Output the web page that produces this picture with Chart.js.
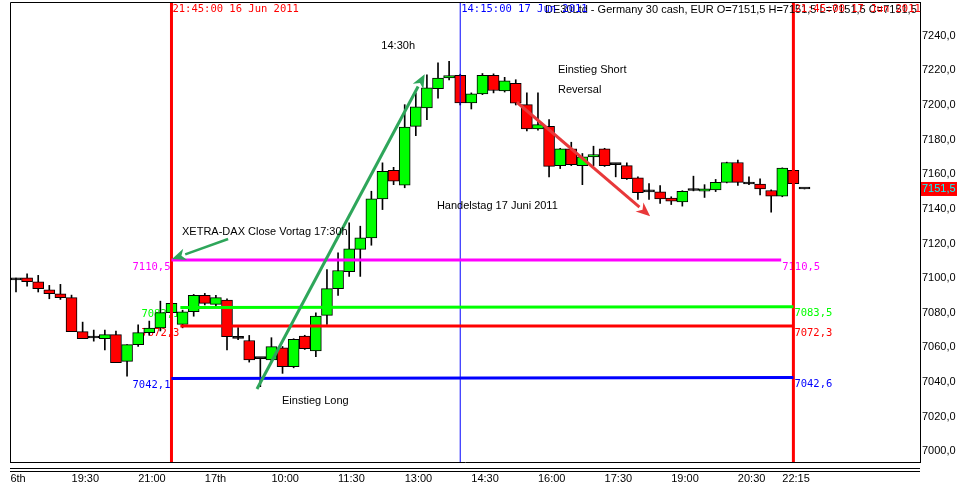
<!DOCTYPE html>
<html>
<head>
<meta charset="utf-8">
<script src="https://cdn.jsdelivr.net/npm/chart.js@4.4.0/dist/chart.umd.min.js"></script>
<style>
  body { margin: 0; background: #fff; }
  canvas { display: block; }
</style>
</head>
<body>
<canvas id="chart" width="961" height="488"></canvas>
<script>
// DE30 15 min candles, index 0 = 18:15 on 16 Jun 2011
const opens = [7099, 7100.2, 7097.9, 7093.3, 7091, 7088.7, 7069.1, 7065.4, 7065.1, 7067.4,
  7051.9, 7061.6, 7068.5, 7071.2, 7080.1, 7073.3, 7080.6, 7090, 7084.8, 7087.3,
  7065.2, 7064, 7053.5, 7052.7, 7059.8, 7048.9, 7066.5, 7057.9, 7078.5, 7093.9,
  7103.7, 7116.6, 7123.3, 7145.8, 7162.3, 7153.7, 7187.7, 7198.3, 7209.5, 7215.6,
  7217.1, 7201.2, 7206.4, 7217.1, 7208.1, 7212.5, 7200.2, 7186.2, 7187.7, 7165,
  7174.7, 7165, 7170, 7174.7, 7165.6, 7165, 7158, 7149.8, 7149.8, 7146.3,
  7144, 7150.6, 7150.2, 7151, 7155.3, 7166.8, 7154.4, 7154.4, 7150.6, 7147.4,
  7162.3, 7151.5];
const highs = [7100, 7102.5, 7101.6, 7095.8, 7096.4, 7090.2, 7074.6, 7070, 7070, 7069.4,
  7061.6, 7073.1, 7075.2, 7086.7, 7087, 7081.5, 7090.6, 7091.2, 7090, 7088,
  7071.4, 7066.9, 7053.8, 7065.6, 7060.5, 7065, 7067, 7080, 7105, 7114.6,
  7132, 7130, 7150.2, 7166.6, 7164, 7200.2, 7207, 7217.5, 7224.3, 7225.2,
  7217.8, 7207, 7218.2, 7218, 7216, 7214.6, 7207, 7207, 7191.6, 7175,
  7178.5, 7172, 7176.2, 7175, 7166, 7166.6, 7158.5, 7154.6, 7153.5, 7147,
  7150.5, 7158.9, 7154, 7157, 7167, 7168.2, 7158.5, 7157.4, 7151, 7163.7,
  7163, 7151.5];
const lows = [7092, 7095.4, 7092, 7088.1, 7087.7, 7069.1, 7065.1, 7063.6, 7058.5, 7051.2,
  7043.4, 7060.6, 7067, 7069.5, 7079, 7071.3, 7078, 7084.5, 7084, 7058.5,
  7064.5, 7051.5, 7037.3, 7051.8, 7045, 7048.2, 7058.8, 7054.6, 7073.3, 7090,
  7101, 7101, 7119, 7139.6, 7154, 7152.2, 7182.3, 7191.6, 7204, 7214.5,
  7200, 7197.7, 7206, 7207, 7207.5, 7200, 7185, 7185.5, 7158.5, 7163.3,
  7165, 7154, 7165, 7164.5, 7158.5, 7157, 7145.4, 7145.4, 7143.1, 7142.5,
  7141.6, 7150.4, 7146.6, 7150, 7155, 7153.5, 7154, 7148, 7138.1, 7147,
  7154, 7151.5];
const closes = [7099, 7097.9, 7093.9, 7091, 7088.7, 7069.1, 7065.1, 7065.4, 7067.4, 7051.2,
  7061.6, 7068.5, 7071.2, 7080.1, 7085.4, 7080.6, 7090, 7085.4, 7088.7, 7066.2,
  7065.2, 7052.7, 7053.5, 7060.4, 7048.9, 7064.6, 7059.3, 7078.1, 7093.9, 7104.4,
  7117, 7123.3, 7145.8, 7161.7, 7156, 7187.3, 7198.9, 7209.9, 7215.6, 7217,
  7201.2, 7206.4, 7217.1, 7208.4, 7213.9, 7201, 7186.2, 7188.7, 7164.6, 7174.7,
  7165.5, 7170, 7171.3, 7165, 7165.6, 7157.4, 7149.4, 7149.8, 7145.8, 7144.4,
  7150.2, 7150.6, 7151.6, 7155.3, 7166.8, 7155.3, 7154.4, 7151.6, 7147.4, 7163.5,
  7154.6, 7151.5];

const xTickPos = [-0.5, 5, 11, 17, 23, 29, 35, 41, 47, 53, 59, 65, 69];
const xTickLabels = ['6th', '19:30', '21:00', '17th', '10:00', '11:30', '13:00', '14:30', '16:00', '17:30', '19:00', '20:30', '22:15'];
const yTicks = [7000, 7020, 7040, 7060, 7080, 7100, 7120, 7140, 7160, 7180, 7200, 7220, 7240];

// horizontal levels (start / end price, start / end bar)
const levelStart = [7110.5, 7083.1, 7072.3, 7042.1];
const levelEnd = [7110.5, 7083.5, 7072.3, 7042.6];
const levelFrom = [14, 14.8, 14.8, 14];
const levelTo = [68.9, 70, 70, 70];

// vertical lines
const vLineBars = [14, 40, 70];
const vLineLabels = ['21:45:00 16 Jun 2011', '14:15:00 17 Jun 2011', '21:45:00 17 Jun 2011'];

// arrows [bar, price]
const arrowFrom = [[21.7, 7036], [19.1, 7122.6], [45.1, 7201.6]];
const arrowTo = [[36.8, 7217.8], [14.05, 7111], [57.1, 7135.8]];

// notes [bar, price]
const noteTexts = ['14:30h', 'Einstieg Short', 'Reversal', 'Handelstag 17 Juni 2011', 'XETRA-DAX Close Vortag 17:30h', 'Einstieg Long'];
const notePos = [[32.9, 7234], [48.8, 7220.3], [48.8, 7208.8], [37.9, 7141.7], [14.95, 7126.7], [23.95, 7029]];

const lastPrice = 7151.5;
const title = 'DE30Ltd - Germany 30 cash, EUR O=7151,5 H=7151,5 L=7151,5 C=7151,5';

const levelColors = ['#ff00ff', '#00ff00', '#ff0000', '#0000ff'];
const vLineColors = ['#ff0000', '#0000ff', '#ff0000'];
const vLineWidths = [3, 1, 3];
const arrowColors = ['#2ea65a', '#2ea65a', '#e8383a'];
const arrowWidths = [3, 2.5, 3];
const Y_MIN = 6993.8, Y_MAX = 7259.5;

const fmt = v => v.toFixed(1).replace('.', ',');
const sans = "11px 'Liberation Sans', Arial, sans-serif";
const mono = "10.5px 'DejaVu Sans Mono', monospace";

const bodies = opens.map((o, i) => ({ x: i, y: [o, closes[i]] }));
const wicks = lows.map((l, i) => ({ x: i, y: [l, highs[i]] }));
const bodyColors = opens.map((o, i) => closes[i] > o ? '#00ff00' : closes[i] < o ? '#ff0000' : '#000000');

const datasets = [];
levelStart.forEach((v, i) => {
  datasets.push({
    type: 'line',
    data: [{ x: levelFrom[i], y: v }, { x: levelTo[i], y: levelEnd[i] }],
    borderColor: levelColors[i],
    borderWidth: 3,
    pointRadius: 0,
    order: 0
  });
});
vLineBars.forEach((b, i) => {
  datasets.push({
    type: 'line',
    data: [{ x: b, y: Y_MIN }, { x: b, y: Y_MAX }],
    borderColor: vLineColors[i],
    borderWidth: vLineWidths[i],
    pointRadius: 0,
    order: 0
  });
});
datasets.push({
  type: 'bar',
  data: bodies,
  backgroundColor: bodyColors,
  borderColor: '#000',
  borderWidth: 1,
  borderSkipped: false,
  barThickness: 11,
  minBarLength: 2,
  grouped: false,
  order: 1
});
datasets.push({
  type: 'bar',
  data: wicks,
  backgroundColor: '#000',
  borderWidth: 0,
  barThickness: 1,
  grouped: false,
  order: 2
});

function arrow(ctx, x1, y1, x2, y2, color, w) {
  const ang = Math.atan2(y2 - y1, x2 - x1);
  const len = 14, half = 6;
  const bx = x2 - len * Math.cos(ang), by = y2 - len * Math.sin(ang);
  ctx.strokeStyle = color;
  ctx.fillStyle = color;
  ctx.lineWidth = w;
  ctx.beginPath();
  ctx.moveTo(x1, y1);
  ctx.lineTo(bx, by);
  ctx.stroke();
  ctx.beginPath();
  ctx.moveTo(x2, y2);
  ctx.lineTo(bx + half * Math.sin(ang), by - half * Math.cos(ang));
  ctx.lineTo(x2 - (len - 4) * Math.cos(ang), y2 - (len - 4) * Math.sin(ang));
  ctx.lineTo(bx - half * Math.sin(ang), by + half * Math.cos(ang));
  ctx.closePath();
  ctx.fill();
}

const overlay = {
  id: 'overlay',
  beforeDatasetsDraw(chart) {
    const { ctx, scales: { x, y } } = chart;
    ctx.save();
    ctx.font = mono;
    ctx.textBaseline = 'middle';
    levelStart.forEach((v, i) => {
      ctx.fillStyle = levelColors[i];
      ctx.textAlign = 'right';
      ctx.fillText(fmt(v), x.getPixelForValue(levelFrom[i]) - 1, y.getPixelForValue(v) + 7);
      ctx.textAlign = 'left';
      ctx.fillText(fmt(levelEnd[i]), x.getPixelForValue(levelTo[i]) + 1, y.getPixelForValue(levelEnd[i]) + 7);
    });
    ctx.restore();
  },
  afterDatasetsDraw(chart) {
    const { ctx, scales: { x, y } } = chart;
    ctx.save();
    arrowFrom.forEach((p, i) => {
      const q = arrowTo[i];
      arrow(ctx, x.getPixelForValue(p[0]), y.getPixelForValue(p[1]),
        x.getPixelForValue(q[0]), y.getPixelForValue(q[1]), arrowColors[i], arrowWidths[i]);
    });
    ctx.font = sans;
    ctx.fillStyle = '#000';
    ctx.textAlign = 'left';
    ctx.textBaseline = 'middle';
    noteTexts.forEach((t, i) => {
      ctx.fillText(t, x.getPixelForValue(notePos[i][0]), y.getPixelForValue(notePos[i][1]));
    });
    ctx.restore();
  },
  afterDraw(chart) {
    const { ctx, chartArea: a, scales: { x, y } } = chart;
    ctx.save();
    ctx.strokeStyle = '#000';
    ctx.lineWidth = 1;
    ctx.beginPath();
    ctx.moveTo(a.left + 0.5, a.bottom);
    ctx.lineTo(a.left + 0.5, a.top + 0.5);
    ctx.lineTo(a.right, a.top + 0.5);
    ctx.moveTo(a.left, 468.5);
    ctx.lineTo(a.right, 468.5);
    ctx.moveTo(a.left, 471.5);
    ctx.lineTo(a.right, 471.5);
    ctx.stroke();

    // title
    ctx.font = sans;
    ctx.fillStyle = '#000';
    ctx.textBaseline = 'middle';
    ctx.textAlign = 'left';
    ctx.fillText(title, 545, 10);

    // vertical line labels
    ctx.font = mono;
    vLineBars.forEach((b, i) => {
      ctx.fillStyle = vLineColors[i];
      ctx.fillText(vLineLabels[i], x.getPixelForValue(b) + 1, 9);
    });

    // last price marker
    const py = y.getPixelForValue(lastPrice);
    ctx.fillStyle = '#ff0000';
    ctx.fillRect(a.right + 1, py - 7, 36, 14);
    ctx.font = sans;
    ctx.fillStyle = '#00ffff';
    ctx.fillText(fmt(lastPrice), a.right + 2, py);
    ctx.restore();
  }
};

new Chart(document.getElementById('chart'), {
  type: 'bar',
  data: { datasets },
  options: {
    responsive: false,
    animation: false,
    events: [],
    layout: { padding: { left: 10, top: 2, right: 0, bottom: 0 } },
    plugins: { legend: { display: false }, tooltip: { enabled: false } },
    scales: {
      x: {
        type: 'linear',
        min: -0.54,
        max: 81.4,
        offset: false,
        grid: { display: false, offset: false, drawTicks: false },
        border: { display: true, color: '#000' },
        afterBuildTicks: s => { s.ticks = xTickPos.map(v => ({ value: v })); },
        afterFit: s => { s.height = 26; s.paddingLeft = 0; s.paddingRight = 0; },
        ticks: {
          align: 'start',
          padding: 10,
          autoSkip: false,
          maxRotation: 0,
          color: '#000',
          font: { family: "'Liberation Sans', Arial, sans-serif", size: 11 },
          callback: (v, i) => xTickLabels[i]
        }
      },
      y: {
        type: 'linear',
        position: 'right',
        min: Y_MIN,
        max: Y_MAX,
        grid: { display: false, drawTicks: false },
        border: { display: true, color: '#000' },
        afterBuildTicks: s => { s.ticks = yTicks.map(v => ({ value: v })); },
        afterFit: s => { s.width = 41; s.paddingTop = 0; s.paddingBottom = 0; },
        ticks: {
          padding: 2,
          color: '#000',
          font: { family: "'Liberation Sans', Arial, sans-serif", size: 11 },
          callback: v => fmt(v)
        }
      }
    }
  },
  plugins: [overlay]
});
</script>
</body>
</html>
